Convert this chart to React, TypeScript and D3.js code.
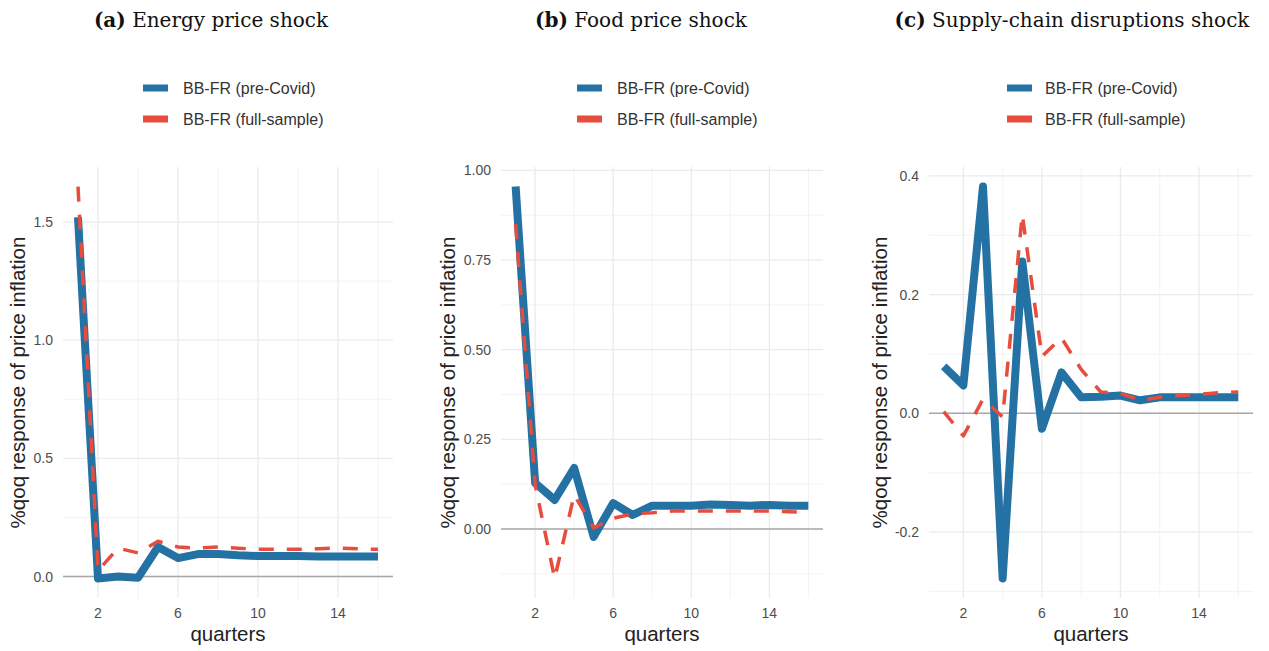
import React from 'react';
import * as d3 from 'd3';

// quarters 1..16
const quarters = [1, 2, 3, 4, 5, 6, 7, 8, 9, 10, 11, 12, 13, 14, 15, 16];

const energyPre = [1.52, -0.008, 0.0, -0.005, 0.125, 0.078, 0.095, 0.095, 0.09, 0.087, 0.087, 0.087, 0.085, 0.085, 0.085, 0.085];
const energyFull = [1.65, 0.025, 0.12, 0.1, 0.149, 0.125, 0.12, 0.125, 0.12, 0.115, 0.115, 0.115, 0.118, 0.12, 0.117, 0.115];

const foodPre = [0.955, 0.128, 0.081, 0.17, -0.022, 0.072, 0.039, 0.065, 0.065, 0.065, 0.068, 0.067, 0.065, 0.067, 0.065, 0.065];
const foodFull = [0.85, 0.123, -0.138, 0.095, 0.003, 0.03, 0.042, 0.045, 0.05, 0.05, 0.05, 0.05, 0.05, 0.05, 0.048, 0.047];

const supplyPre = [0.079, 0.047, 0.382, -0.278, 0.256, -0.026, 0.069, 0.027, 0.028, 0.03, 0.022, 0.027, 0.027, 0.027, 0.027, 0.027];
const supplyFull = [0.003, -0.038, 0.024, -0.006, 0.335, 0.096, 0.127, 0.074, 0.036, 0.034, 0.022, 0.027, 0.03, 0.032, 0.035, 0.036];

const xMajor = [2, 6, 10, 14];
const xMinor = [4, 8, 12, 16];

const energyTicks = [0, 0.5, 1.0, 1.5];
const energyLabels = ['0.0', '0.5', '1.0', '1.5'];
const energyMinor = [0.25, 0.75, 1.25];

const foodTicks = [0, 0.25, 0.5, 0.75, 1.0];
const foodLabels = ['0.00', '0.25', '0.50', '0.75', '1.00'];
const foodMinor = [-0.125, 0.125, 0.375, 0.625, 0.875];

const supplyTicks = [-0.2, 0, 0.2, 0.4];
const supplyLabels = ['-0.2', '0.0', '0.2', '0.4'];
const supplyMinor = [-0.3, -0.1, 0.1, 0.3];

const seriesNames = ['BB-FR (pre-Covid)', 'BB-FR (full-sample)'];

const BLUE = '#2471a3';
const RED = '#e74c3c';
const SANS = '"Liberation Sans", Arial, sans-serif';
const SERIF = '"DejaVu Serif", serif';

const panels = [
  { tag: '(a)', title: 'Energy price shock', titleX: 211, pre: energyPre, full: energyFull,
    ticks: energyTicks, labels: energyLabels, minor: energyMinor,
    left: 63, right: 393, yTitleX: 18, keyX: 143, legX: 183 },
  { tag: '(b)', title: 'Food price shock', titleX: 641, pre: foodPre, full: foodFull,
    ticks: foodTicks, labels: foodLabels, minor: foodMinor,
    left: 501, right: 823, yTitleX: 448, keyX: 577, legX: 617 },
  { tag: '(c)', title: 'Supply-chain disruptions shock', titleX: 1072, pre: supplyPre, full: supplyFull,
    ticks: supplyTicks, labels: supplyLabels, minor: supplyMinor,
    left: 929, right: 1253, yTitleX: 880, keyX: 1007, legX: 1045 },
];

const TOP = 167;
const BOTTOM = 598;

const Panel = ({ p }) => {
  const x = d3.scaleLinear().domain([0.25, 16.75]).range([p.left, p.right]);
  const all = p.pre.concat(p.full);
  const lo = d3.min(all), hi = d3.max(all);
  const pad = (hi - lo) * 0.05;
  const y = d3.scaleLinear().domain([lo - pad, hi + pad]).range([BOTTOM, TOP]);

  const line = d3.line<number>()
    .x((d, i) => x(quarters[i]))
    .y(d => y(d));

  const cx = (p.left + p.right) / 2;
  const cy = (TOP + BOTTOM) / 2;

  return (
    <g>
      <text x={p.titleX} y={27} textAnchor="middle" fontFamily={SERIF} fontSize={20} fill="#111">
        <tspan fontWeight="bold">{p.tag}</tspan> {p.title}
      </text>

      {seriesNames.map((name, i) => (
        <g key={name}>
          <rect x={p.keyX} y={88 + i * 31 - 3.5} width={25} height={7} fill={i === 0 ? BLUE : RED} />
          <text x={p.legX} y={88 + i * 31} dy="0.36em" fontFamily={SANS} fontSize={16} fill="#333">{name}</text>
        </g>
      ))}

      {/* grid */}
      {p.minor.map(v => (
        <line key={'ym' + v} x1={p.left} x2={p.right} y1={y(v)} y2={y(v)} stroke="#f0f0f0" strokeWidth={0.8} />
      ))}
      {xMinor.map(v => (
        <line key={'xm' + v} x1={x(v)} x2={x(v)} y1={TOP} y2={BOTTOM} stroke="#f0f0f0" strokeWidth={0.8} />
      ))}
      {p.ticks.map(v => (
        <line key={'y' + v} x1={p.left} x2={p.right} y1={y(v)} y2={y(v)} stroke="#ebebeb" strokeWidth={1.3} />
      ))}
      {xMajor.map(v => (
        <line key={'x' + v} x1={x(v)} x2={x(v)} y1={TOP} y2={BOTTOM} stroke="#ebebeb" strokeWidth={1.3} />
      ))}
      <line x1={p.left} x2={p.right} y1={y(0)} y2={y(0)} stroke="#a8a8a8" strokeWidth={1.5} />

      <path d={line(p.pre) || ''} fill="none" stroke={BLUE} strokeWidth={8} strokeLinejoin="round" />
      <path d={line(p.full) || ''} fill="none" stroke={RED} strokeWidth={3.5} strokeDasharray="15 13" strokeLinejoin="round" />

      {/* tick labels */}
      {p.ticks.map((v, i) => (
        <text key={'yl' + v} x={p.left - 10} y={y(v)} dy="0.36em" textAnchor="end" fontFamily={SANS} fontSize={14} fill="#4d4d4d">{p.labels[i]}</text>
      ))}
      {xMajor.map(v => (
        <text key={'xl' + v} x={x(v)} y={618} textAnchor="middle" fontFamily={SANS} fontSize={14} fill="#4d4d4d">{v}</text>
      ))}

      <text x={cx} y={641} textAnchor="middle" fontFamily={SANS} fontSize={20.5} fill="#222">quarters</text>
      <text transform={`translate(${p.yTitleX},${cy}) rotate(-90)`} dy="0.35em" textAnchor="middle" fontFamily={SANS} fontSize={20.5} fill="#222">
        %qoq response of price inflation
      </text>
    </g>
  );
};

export default function App() {
  return (
    <svg width={1269} height={651} style={{ position: 'absolute', left: 0, top: 0, background: '#fff' }}>
      <rect width={1269} height={651} fill="#fff" />
      {panels.map(p => <Panel key={p.tag} p={p} />)}
    </svg>
  );
}
